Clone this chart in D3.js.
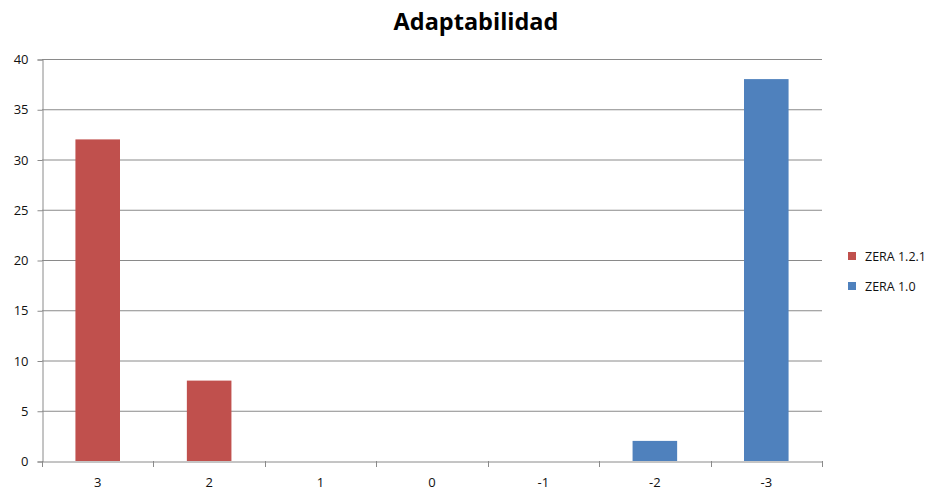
<!DOCTYPE html>
<html><head><meta charset="utf-8">
<script src="https://cdn.jsdelivr.net/npm/d3@7"></script>
<style>body{margin:0;background:#fff}svg{display:block}</style>
</head><body>
<svg id="c" width="935" height="491"></svg>
<script>
const categories = ["3","2","1","0","-1","-2","-3"];
const seriesNames = ["ZERA 1.2.1","ZERA 1.0"];
const zera121 = [32, 8, 0, 0, 0, 0, 0];
const zera10 = [0, 0, 0, 0, 0, 2, 38];
const yTicks = [0,5,10,15,20,25,30,35,40];
const colors = ["#C0504D","#4F81BD"];

const svg = d3.select("#c");
const m = {l:42, r:822, t:59, b:461};
const x = d3.scaleBand().domain(categories).range([m.l, m.r]).paddingInner(0).paddingOuter(0);
const y = d3.scaleLinear().domain([0,40]).range([m.b, m.t]);
const font = "'Open Sans', sans-serif";

// title
svg.append("text").attr("x", 476).attr("y", 30).attr("text-anchor","middle")
  .attr("font-family", font).attr("font-weight","bold").attr("font-size", 23.5).attr("fill","#000")
  .text("Adaptabilidad");

// gridlines
svg.append("g").selectAll("line").data(yTicks.filter(d=>d>0)).join("line")
  .attr("x1", m.l).attr("x2", m.r).attr("y1", d=>y(d)+0.5).attr("y2", d=>y(d)+0.5)
  .attr("stroke","#8a8a8a").attr("stroke-width",1);

// y axis
const ya = svg.append("g").attr("transform",`translate(${m.l+0.5},0.5)`)
  .call(d3.axisLeft(y).tickValues(yTicks).tickSize(5).tickPadding(9));
ya.select(".domain").attr("stroke","#8a8a8a");
ya.selectAll(".tick line").attr("stroke","#8a8a8a");
ya.selectAll("text").attr("font-family",font).attr("font-size",13).attr("fill","#111");

// bars
const bw = x.bandwidth()*0.4;
[zera121, zera10].forEach((vals, si) => {
  const data = vals.map((v,i)=>({c:categories[i],v})).filter(d=>d.v>0);
  svg.append("g").selectAll("rect").data(data).join("rect")
    .attr("x", d=>x(d.c)+x.bandwidth()/2-bw/2).attr("width", bw)
    .attr("y", d=>y(d.v)).attr("height", d=>y(0)-y(d.v))
    .attr("fill", colors[si]);
});

// x axis
const xa = svg.append("g").attr("transform",`translate(0,${m.b+0.5})`)
  .call(d3.axisBottom(x).tickSize(0).tickPadding(16));
xa.select(".domain").attr("stroke","#8a8a8a");
xa.selectAll("text").attr("font-family",font).attr("font-size",13).attr("fill","#111");
svg.append("g").selectAll("line").data(d3.range(categories.length+1)).join("line")
  .attr("x1", i=>Math.round(m.l + i*x.bandwidth())+0.5).attr("x2", i=>Math.round(m.l + i*x.bandwidth())+0.5)
  .attr("y1", m.b).attr("y2", m.b+6).attr("stroke","#8a8a8a");

// legend
const lg = svg.append("g").selectAll("g").data(seriesNames).join("g")
  .attr("transform",(d,i)=>`translate(848,${252+i*30})`);
lg.append("rect").attr("width",8).attr("height",8).attr("fill",(d,i)=>colors[i]);
lg.append("text").attr("x",17).attr("y",8.5).attr("font-family",font).attr("font-size",12.5).attr("fill","#111").text(d=>d);
</script>
</body></html>
